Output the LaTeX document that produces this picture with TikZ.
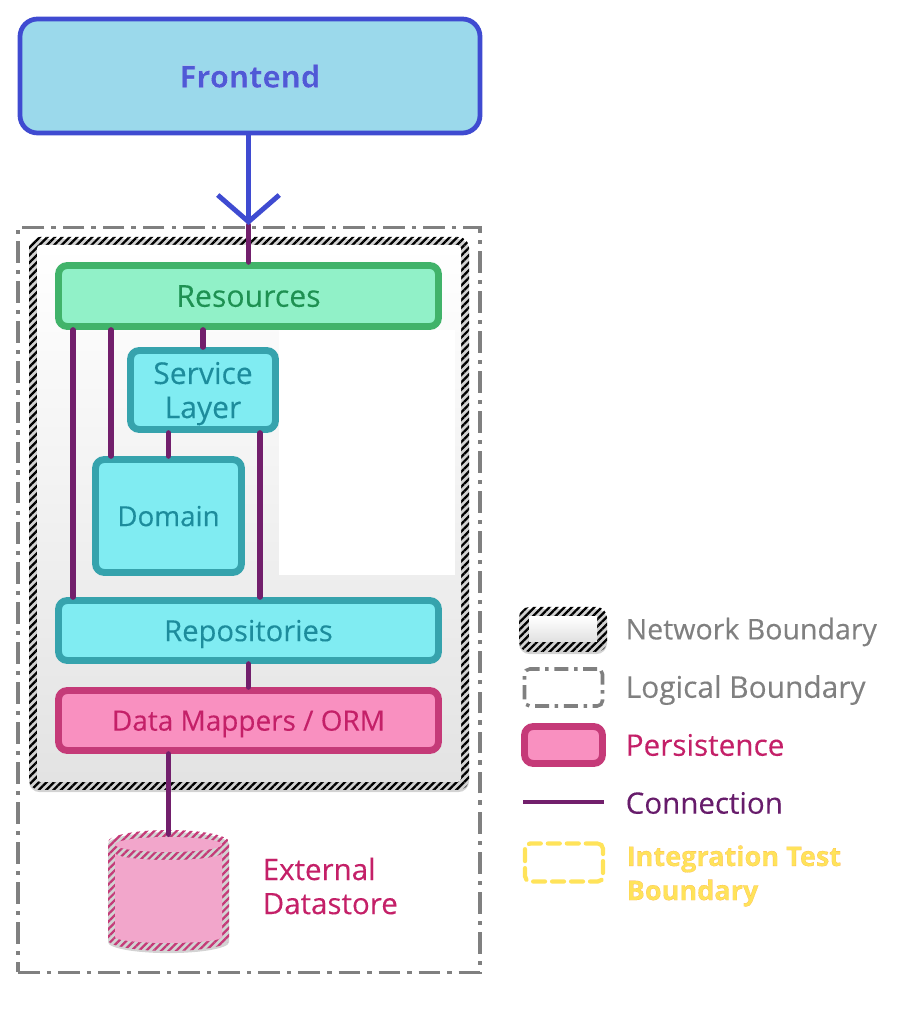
\documentclass[tikz,border=0pt]{standalone}
\usepackage{fontspec}
\setmainfont[FakeBold=0.2]{Open Sans}
\newfontfamily\frontfont[FakeBold=0.25]{Open Sans Bold}
\usepackage{tikz}
\usetikzlibrary{arrows.meta,patterns.meta,shadows}
\definecolor{frontfill}{HTML}{9BD9EB}
\definecolor{frontline}{HTML}{3F4BD1}
\definecolor{fronttext}{HTML}{4F5AD6}
\definecolor{resfill}{HTML}{91F1C8}
\definecolor{resline}{HTML}{41B36A}
\definecolor{restext}{HTML}{1E9152}
\definecolor{svcfill}{HTML}{80ECF2}
\definecolor{svcline}{HTML}{36A3AD}
\definecolor{svctext}{HTML}{1D8C9C}
\definecolor{perfill}{HTML}{F990C0}
\definecolor{perline}{HTML}{C53A78}
\definecolor{pertext}{HTML}{C42068}
\definecolor{storefill}{HTML}{F2A6CB}
\definecolor{connline}{HTML}{721F6C}
\definecolor{conntext}{HTML}{671C6B}
\definecolor{logiline}{HTML}{808080}
\definecolor{testline}{HTML}{FFE35A}
% stroke colour for outlined text
\newcommand{\strokedtext}[3]{\textcolor{#2}{\special{pdf:code #1 RG}#3}}
\newcommand{\fs}[1]{\fontsize{#1}{9.7}\selectfont}
\tikzset{
  box/.style={draw, line width=1.95pt, rounded corners=2.5pt, inner sep=0pt, align=center, text depth=0pt, font=\fs{8.3}},
  resbox/.style={box, draw=resline, fill=resfill, text=restext},
  svcbox/.style={box, draw=svcline, fill=svcfill, text=svctext},
  perbox/.style={box, draw=perline, fill=perfill, text=pertext},
  softshadow/.style={drop shadow={opacity=.35, shadow xshift=0pt, shadow yshift=-.6pt}},
  hatchblack/.style={rounded corners=3pt, inner sep=0pt, preaction={fill=white}, pattern={Lines[angle=45,distance=1.5pt,line width=.65pt]}, pattern color=black},
  hatchpink/.style={preaction={fill=white}, pattern={Lines[angle=45,distance=1.5pt,line width=.65pt]}, pattern color=perline},
  logical/.style={draw=logiline, line width=1pt, inner sep=0pt, dash pattern=on 6.2pt off 2pt on 1.2pt off 2pt},
  conn/.style={draw=connline, line width=1.55pt, line cap=round},
  legend/.style={anchor=west, inner sep=0pt, font=\fs{8.4}, align=left},
  testbound/.style={draw=testline, line width=1.2pt, line cap=round, rounded corners=1.5pt, inner sep=0pt, dash pattern=on 3.4pt off 2pt}
}
\begin{document}
\begin{tikzpicture}
        % Bounding box
        \useasboundingbox (0,0) rectangle (9.06,10.3);

        % Boundaries
        \node[logical, minimum width=4.62cm, minimum height=7.45cm] (logic) at (2.49,4.30) {};
        \node[hatchblack, softshadow, minimum width=4.40cm, minimum height=5.53cm] (net) at (2.49,5.165) {};
        \node[rounded corners=1pt, top color=white, bottom color=black!11, minimum width=4.24cm, minimum height=5.37cm, inner sep=0pt] (netin) at (net) {};
        \fill[white] (2.79,7.0) rectangle (4.55,4.55);

        % Nodes
        \node[box, draw=frontline, fill=frontfill, rounded corners=5pt, line width=1.35pt, minimum width=4.6cm, minimum height=1.14cm, font=\fs{8.75}\frontfont] (front) at (2.5,9.54) {\strokedtext{1 1 1}{fronttext}{Frontend}};
        \node[resbox, minimum width=3.8cm, minimum height=.61cm, font=\fs{8.6}] (res) at (2.485,7.34) {Resources};
        \node[svcbox, minimum width=1.45cm, minimum height=.79cm, font=\fs{8.55}] (svc) at (2.03,6.40) {Service\\Layer};
        \node[svcbox, minimum width=1.46cm, minimum height=1.13cm, font=\fs{7.9}] (dom) at (1.685,5.14) {Domain};
        \node[svcbox, minimum width=3.8cm, minimum height=.60cm] (repo) at (2.485,3.995) {Repositories};
        \node[perbox, minimum width=3.8cm, minimum height=.60cm, font=\fs{7.95}] (map) at (2.485,3.095) {Data Mappers / ORM};

        % Datastore
        \node[minimum width=1.21cm, minimum height=1.16cm, inner sep=0pt] (store) at (1.685,1.37) {};
        \path[hatchpink, softshadow] (1.08,.90) -- (1.08,1.88) arc[start angle=180, end angle=0, x radius=.605, y radius=.12] -- (2.29,.90) arc[start angle=0, end angle=-180, x radius=.605, y radius=.11] -- cycle;
        \fill[storefill] (1.15,.93) -- (1.15,1.77) arc[start angle=180, end angle=360, x radius=.535, y radius=.07] -- (2.22,.93) arc[start angle=0, end angle=-180, x radius=.535, y radius=.06] -- cycle;
        \fill[storefill] (1.685,1.855) ellipse[x radius=.535, y radius=.075];
        \node[legend, text=pertext] (storelab) at (2.62,1.44) {External\\Datastore};

        % Edges
        \coordinate (tip) at (2.485,8.05);
        \coordinate (left) at (.73,0);
        \coordinate (mid) at (1.11,0);
        \coordinate (right) at (2.60,0);
        \draw[conn] (tip) -- (res.north -| tip);
        \draw[frontline, line width=1.4pt, line cap=round, {Straight Barb[length=7.6pt, width=17.5pt]}-] (tip) -- (front.south -| tip);
        \draw[conn] (res.south -| left) -- (repo.north -| left);
        \draw[conn] (res.south -| mid) -- (dom.north -| mid);
        \draw[conn] (res.south -| svc.north) -- (svc.north);
        \draw[conn] (svc.south -| dom.north) -- (dom.north);
        \draw[conn] (svc.south -| right) -- (repo.north -| right);
        \draw[conn] (repo.south -| tip) -- (map.north -| tip);
        \draw[conn] (map.south -| store.north) -- (store.north);

        % Legend
        \node[hatchblack, softshadow, minimum width=.88cm, minimum height=.45cm] (lnet) at (5.63,4.005) {};
        \node[top color=white, bottom color=black!12, minimum width=.68cm, minimum height=.25cm, inner sep=0pt] (lnetin) at (lnet) {};
        \node[logical, rounded corners=1.5pt, minimum width=.78cm, minimum height=.37cm, dash pattern=on 4pt off 1.6pt on 1pt off 1.6pt] (llog) at (5.635,3.425) {};
        \node[box, draw=perline, fill=perfill, softshadow, minimum width=.78cm, minimum height=.37cm] (lper) at (5.635,2.85) {};
        \coordinate (lcona) at (5.23,2.28);
        \coordinate (lconb) at (6.04,2.28);
        \draw[connline, line width=1.1pt] (lcona) -- (lconb);
        \node[testbound, minimum width=.78cm, minimum height=.38cm] (ltest) at (5.64,1.675) {};

        \node[legend, text=logiline, font=\fs{8.12}] (tnet) at (6.25,3.98) {Network Boundary};
        \node[legend, text=logiline, font=\fs{8.5}] (tlog) at (6.25,3.40) {Logical Boundary};
        \node[legend, text=pertext, font=\fs{8.45}] (tper) at (6.25,2.85) {Persistence};
        \node[legend, text=conntext] (tcon) at (6.25,2.27) {Connection};
        \node[legend, text=testline, font=\fs{7.7}\frontfont] (ttest) at (6.26,1.54) {\strokedtext{0.98 0.62 0.24}{testline}{Integration Test}\\\strokedtext{0.98 0.62 0.24}{testline}{Boundary}};
\end{tikzpicture}
\end{document}
